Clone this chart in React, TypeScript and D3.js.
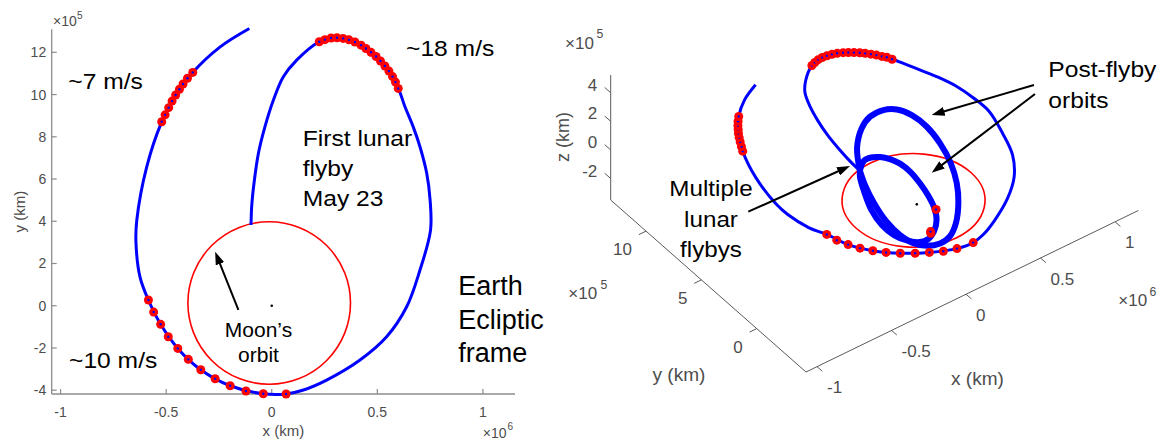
import React from "react";
import * as d3 from "d3";

const FONT = "'Liberation Sans', Arial, Helvetica, sans-serif";

// all positions in units of 1e5 km, [x, y, z]
const moonOrbit = { cx: -0.12, cy: 0.13, r: 3.85 };
const earth = [0, 0, -0.25];

// pre-flyby trajectory, start (top) to first lunar flyby
const trajectory = [
  [-1.06, 13.13, -0.3], [-2.44, 12.26, -0.05], [-3.74, 11.05, 0.25], [-4.55, 9.98, 0.21],
  [-5.21, 8.71, 0.17], [-5.92, 6.58, 0.15], [-6.39, 4.06, 0.2], [-6.43, 3.0, 0.25],
  [-6.24, 1.37, 0.35], [-5.84, 0.27, 0.42], [-5.26, -0.88, 0.2], [-4.45, -2.02, 0.14],
  [-3.36, -3.03, 0.1], [-1.97, -3.79, -0.03], [-0.4, -4.17, -0.3], [0.68, -4.18, -0.42],
  [1.5, -3.99, -0.4], [2.6, -3.52, -0.3], [4.18, -2.57, -0.2], [5.44, -1.47, -0.1],
  [6.39, -0.05, 0], [7.02, 1.69, 0], [7.52, 3.58, 0], [7.5, 5.0, 0], [7.34, 6.27, 0],
  [7.02, 7.53, -0.05], [6.7, 8.47, -0.1], [6.31, 9.42, -0.1], [5.99, 10.29, -0.15],
  [5.36, 11.35, -0.2], [4.46, 12.18, -0.2], [3.38, 12.66, -0.2], [2.81, 12.68, -0.2],
  [2.25, 12.5, -0.2], [1.18, 11.63, -0.15], [0.55, 10.84, -0.1], [0.08, 9.74, -0.1],
  [-0.32, 8.48, -0.05], [-0.63, 7.22, 0], [-0.84, 5.8, 0], [-0.95, 4.69, 0], [-0.98, 3.82, 0],
];

// maneuver points
const burns7 = [
  [-5.21, 8.71, 0.17], [-5.05, 9.04, 0.18], [-4.88, 9.38, 0.19], [-4.72, 9.69, 0.2],
  [-4.55, 9.98, 0.21], [-4.37, 10.25, 0.22], [-4.2, 10.5, 0.23], [-3.99, 10.77, 0.24],
  [-3.74, 11.05, 0.25],
];
const burns10 = [
  [-5.84, 0.27, 0.42], [-5.59, -0.3, 0.28], [-5.26, -0.88, 0.2], [-4.9, -1.47, 0.17],
  [-4.45, -2.02, 0.14], [-3.95, -2.54, 0.12], [-3.36, -3.03, 0.1], [-2.68, -3.46, 0.05],
  [-1.97, -3.79, -0.03], [-1.22, -4.04, -0.16], [-0.4, -4.17, -0.3], [0.68, -4.18, -0.42],
];
const burns18 = [
  [2.25, 12.5, -0.2], [2.52, 12.6, -0.2], [2.81, 12.68, -0.2], [3.09, 12.69, -0.2],
  [3.38, 12.66, -0.2], [3.66, 12.59, -0.2], [3.94, 12.49, -0.2], [4.23, 12.34, -0.2],
  [4.46, 12.18, -0.2], [4.7, 12.0, -0.2], [4.94, 11.8, -0.2], [5.15, 11.59, -0.2],
  [5.36, 11.35, -0.2], [5.55, 11.11, -0.2], [5.72, 10.85, -0.2], [5.86, 10.59, -0.15],
  [5.99, 10.29, -0.15],
];

// post-flyby orbits (3D panel only)
const postOuter = [
  [-0.98, 3.82, 0], [0.02, 5.42, 0], [1.18, 6.56, 0], [2.11, 7.06, 0], [3.01, 7.07, 0],
  [3.62, 6.68, 0], [3.99, 5.82, 0], [4.07, 4.57, 0], [3.83, 3.05, 0], [3.32, 1.4, 0],
  [2.6, -0.11, 0], [1.7, -1.47, 0], [0.62, -2.71, 0], [-0.29, -3.4, 0], [-1.09, -3.57, 0],
  [-1.78, -3.3, 0], [-2.23, -2.69, 0], [-2.41, -1.74, 0], [-2.33, -0.37, 0], [-1.97, 1.2, 0],
  [-1.48, 2.67, 0], [-0.98, 3.82, 0],
];
const postInner = [
  [-0.98, 3.82, 0], [-0.31, 4.34, 0], [0.15, 4.33, 0], [0.56, 4.07, 0], [0.89, 3.62, 0],
  [1.1, 2.99, 0], [1.14, 2.14, 0], [0.99, 1.03, 0], [0.75, -0.02, 0], [0.42, -1.0, 0],
  [-0.06, -1.87, 0], [-0.75, -2.57, 0], [-1.4, -2.9, 0], [-1.98, -2.78, 0], [-2.4, -2.26, 0],
  [-2.67, -1.54, 0], [-2.7, -0.5, 0], [-2.4, 0.9, 0], [-1.82, 2.31, 0], [-1.31, 3.36, 0],
  [-0.98, 3.82, 0],
];
const postBurns = [[0.41, -1.19, 0], [-0.99, -2.6, 0], [-0.92, -2.48, 0]];

const xTicks = [-10, -5, 0, 5, 10]; // labelled in units of 1e6 km
const yTicks2d = [-4, -2, 0, 2, 4, 6, 8, 10, 12];
const yTicks3d = [0, 5, 10];
const zTicks3d = [-2, 0, 2, 4];

// ---------- 2D panel scales
const x2 = d3.scaleLinear().domain([-10.42, 11.52]).range([51.7, 515]);
const y2 = d3.scaleLinear().domain([-4.18, 13.09]).range([394, 29.3]);
const line2 = d3
  .line<number[]>()
  .x((d) => x2(d[0]))
  .y((d) => y2(d[1]))
  .curve(d3.curveCatmullRom.alpha(0.5));

// ---------- 3D panel (fixed MATLAB view), each axis scaled to its box edge
const X3 = d3.scaleLinear().domain([-10.74, 11.56]).range([0, 1]);
const Y3 = d3.scaleLinear().domain([-4.45, 13.19]).range([0, 1]);
const Z3 = d3.scaleLinear().domain([-3.5, 5.24]).range([0, 1]);
const corner = [806, 372];
const VX = [332.3, -161.5];
const VY = [-195.3, -172];
const VZ = [0, -125];
function proj(p: number[]) {
  const a = X3(p[0]), b = Y3(p[1]), c = Z3(p[2]);
  return [
    corner[0] + a * VX[0] + b * VY[0] + c * VZ[0],
    corner[1] + a * VX[1] + b * VY[1] + c * VZ[1],
  ];
}
const line3 = d3
  .line<number[]>()
  .x((d) => proj(d)[0])
  .y((d) => proj(d)[1])
  .curve(d3.curveCatmullRom.alpha(0.5));

function Txt({ x, y, size, s = 1, anchor = "start", fill = "#000", rot = 0, children }: any) {
  return (
    <text
      transform={`translate(${x},${y})${rot ? ` rotate(${rot})` : ""} scale(${s},1)`}
      fontSize={size}
      textAnchor={anchor}
      dominantBaseline="central"
      fill={fill}
    >
      {children}
    </text>
  );
}

function Exp({ x, y, size, exp, ex, ey, fill }: any) {
  return (
    <g>
      <Txt x={x} y={y} size={size} fill={fill}>×10</Txt>
      <Txt x={ex} y={ey} size={size * 0.72} fill={fill}>{exp}</Txt>
    </g>
  );
}

function Arrow({ from, to }: any) {
  const dx = to[0] - from[0], dy = to[1] - from[1];
  const L = Math.hypot(dx, dy);
  const end = [to[0] - (dx / L) * 8, to[1] - (dy / L) * 8];
  return (
    <g>
      <line x1={from[0]} y1={from[1]} x2={end[0]} y2={end[1]} stroke="#000" strokeWidth={2} />
      <line x1={end[0]} y1={end[1]} x2={to[0]} y2={to[1]} stroke="none" markerEnd="url(#ah)" />
    </g>
  );
}

function Marks({ pts, at, r = 4.5 }: any) {
  return (
    <g>
      {pts.map((p: number[], i: number) => {
        const [cx, cy] = at(p);
        return (
          <g key={i}>
            <circle cx={cx} cy={cy} r={r} fill="#ff0000" />
            <circle cx={cx} cy={cy} r={1.2} fill="#0000ff" />
          </g>
        );
      })}
    </g>
  );
}

export default function App() {
  const axisC = "#8c8c8c";
  const labC = "#4d4d4d";
  const at2 = (p: number[]) => [x2(p[0]), y2(p[1])];

  // 2D axes
  const xL = x2.range()[0], yB = y2.range()[0];

  // 3D moon orbit: circle in the z=0 plane mapped by the projection
  const o = proj([0, 0, 0]);
  const ex = proj([1, 0, 0]);
  const ey = proj([0, 1, 0]);
  const mtx = `matrix(${ex[0] - o[0]},${ex[1] - o[1]},${ey[0] - o[0]},${ey[1] - o[1]},${o[0]},${o[1]})`;

  const [xmin] = X3.domain();
  const [ymin, ymax] = Y3.domain();
  const [zmin, zmax] = Z3.domain();
  const cxyz = proj([xmin, ymin, zmin]);
  const xEnd = proj([X3.domain()[1], ymin, zmin]);
  const yEnd = proj([xmin, ymax, zmin]);
  const zEnd = proj([xmin, ymax, zmax]);
  const ax3 = "#5a5a5a";

  return (
    <svg
      width={1162}
      height={441}
      style={{ position: "absolute", left: 0, top: 0, display: "block" }}
      fontFamily={FONT}
    >
      <defs>
        <marker id="ah" viewBox="0 0 13 9" refX={13} refY={4.5} markerWidth={13} markerHeight={9}
          markerUnits="userSpaceOnUse" orient="auto">
          <path d="M0,0 L13,4.5 L0,9 Z" fill="#000" />
        </marker>
      </defs>
      <rect width={1162} height={441} fill="#fff" />

      {/* ================= left: 2D ecliptic view ================= */}
      <g>
        <line x1={xL} y1={y2.range()[1]} x2={xL} y2={yB} stroke={axisC} strokeWidth={1.3} />
        <line x1={xL} y1={yB} x2={x2.range()[1]} y2={yB} stroke={axisC} strokeWidth={1.3} />
        {yTicks2d.map((t) => (
          <g key={t}>
            <line x1={xL} x2={xL + 5} y1={y2(t)} y2={y2(t)} stroke={axisC} strokeWidth={1.2} />
            <Txt x={xL - 5.5} y={y2(t)} size={14} anchor="end" fill={labC}>{t}</Txt>
          </g>
        ))}
        {xTicks.map((t) => (
          <g key={t}>
            <line x1={x2(t)} x2={x2(t)} y1={yB} y2={yB - 5} stroke={axisC} strokeWidth={1.2} />
            <Txt x={x2(t)} y={411.5} size={14} anchor="middle" fill={labC}>{String(t / 10)}</Txt>
          </g>
        ))}
        <Exp x={53} y={21} size={14} exp="5" ex={77} ey={15} fill={labC} />
        <Exp x={482.7} y={433} size={14} exp="6" ex={507.5} ey={426.5} fill={labC} />
        <Txt x={(x2.range()[0] + x2.range()[1]) / 2} y={430.5} size={15} anchor="middle" fill={labC}>x (km)</Txt>
        <Txt x={19} y={(y2.range()[0] + y2.range()[1]) / 2} size={15} anchor="middle" rot={-90} fill={labC}>y (km)</Txt>

        <circle cx={x2(moonOrbit.cx)} cy={y2(moonOrbit.cy)} r={x2(moonOrbit.r) - x2(0)}
          fill="none" stroke="#ff0000" strokeWidth={1.6} />
        <path d={line2(trajectory) || ""} fill="none" stroke="#0000ff" strokeWidth={3} />
        <Marks pts={burns7} at={at2} />
        <Marks pts={burns10} at={at2} />
        <Marks pts={burns18} at={at2} />
        <circle cx={x2(earth[0])} cy={y2(earth[1])} r={1.3} fill="#000" />

        <Arrow from={at2([-1.58, -0.2])} to={at2([-2.68, 2.56])} />
        <Txt x={68.3} y={81.7} size={22} s={1.12}>~7 m/s</Txt>
        <Txt x={406} y={48.7} size={22} s={1.12}>~18 m/s</Txt>
        <Txt x={69} y={360} size={22} s={1.12}>~10 m/s</Txt>
        <Txt x={302.7} y={138.7} size={22} s={1.12}>First lunar</Txt>
        <Txt x={302.7} y={168.5} size={22} s={1.12}>flyby</Txt>
        <Txt x={302.7} y={198.7} size={22} s={1.12}>May 23</Txt>
        <Txt x={258.5} y={330} size={20} s={1.05} anchor="middle">Moon’s</Txt>
        <Txt x={258.5} y={355} size={20} s={1.05} anchor="middle">orbit</Txt>
        <Txt x={458.3} y={286.3} size={27}>Earth</Txt>
        <Txt x={458.3} y={319.7} size={27}>Ecliptic</Txt>
        <Txt x={458.3} y={353} size={27}>frame</Txt>
      </g>

      {/* ================= right: 3D view ================= */}
      <g>
        <line x1={cxyz[0]} y1={cxyz[1]} x2={xEnd[0]} y2={xEnd[1]} stroke={ax3} strokeWidth={1} />
        <line x1={cxyz[0]} y1={cxyz[1]} x2={yEnd[0]} y2={yEnd[1]} stroke={ax3} strokeWidth={1} />
        <line x1={yEnd[0]} y1={yEnd[1]} x2={zEnd[0]} y2={zEnd[1]} stroke={ax3} strokeWidth={1} />
        {xTicks.map((t) => {
          const p = proj([t, ymin, zmin]);
          return (
            <g key={t}>
              <line x1={p[0]} y1={p[1]} x2={p[0] + 5.3} y2={p[1] + 4.6} stroke={ax3} />
              <Txt x={p[0] + 10} y={p[1] + 21} size={17} fill={labC}>{String(t / 10)}</Txt>
            </g>
          );
        })}
        {yTicks3d.map((t) => {
          const p = proj([xmin, t, zmin]);
          return (
            <g key={t}>
              <line x1={p[0]} y1={p[1]} x2={p[0] - 7.2} y2={p[1] + 3.5} stroke={ax3} />
              <Txt x={p[0] - 14} y={p[1] + 18.5} size={17} anchor="end" fill={labC}>{t}</Txt>
            </g>
          );
        })}
        {zTicks3d.map((t) => {
          const p = proj([xmin, ymax, t]);
          return (
            <g key={t}>
              <line x1={p[0]} y1={p[1]} x2={p[0] - 6} y2={p[1] - 5.3} stroke={ax3} />
              <Txt x={p[0] - 13.4} y={p[1] - 7.5} size={17} anchor="end" fill={labC}>{t}</Txt>
            </g>
          );
        })}
        <Exp x={565} y={43.3} size={17} exp="5" ex={596.5} ey={34.3} fill={labC} />
        <Exp x={568.3} y={293.3} size={17} exp="5" ex={600.5} ey={285} fill={labC} />
        <Exp x={1118.3} y={300} size={17} exp="6" ex={1149.5} ey={291.7} fill={labC} />
        <Txt x={679} y={375} size={18} s={1.06} anchor="middle" fill={labC}>y (km)</Txt>
        <Txt x={977.5} y={378.3} size={18} s={1.06} anchor="middle" fill={labC}>x (km)</Txt>
        <Txt x={563} y={137} size={18} anchor="middle" rot={-90} fill={labC}>z (km)</Txt>

        <circle cx={moonOrbit.cx} cy={moonOrbit.cy} r={moonOrbit.r} transform={mtx}
          fill="none" stroke="#ff0000" strokeWidth={1.6} vectorEffect="non-scaling-stroke" />
        <path d={line3(trajectory) || ""} fill="none" stroke="#0000ff" strokeWidth={3} />
        <path d={line3(postOuter) || ""} fill="none" stroke="#0000ff" strokeWidth={6} />
        <path d={line3(postInner) || ""} fill="none" stroke="#0000ff" strokeWidth={6} />
        <Marks pts={burns7} at={proj} />
        <Marks pts={burns10} at={proj} />
        <Marks pts={burns18} at={proj} />
        <Marks pts={postBurns} at={proj} />
        <circle cx={proj(earth)[0]} cy={proj(earth)[1]} r={1.3} fill="#000" />

        <Arrow from={[748.3, 211.7]} to={[850, 166]} />
        <Arrow from={[1034, 85]} to={[931.7, 115]} />
        <Arrow from={[1035, 94]} to={[931.7, 172.7]} />
        <Txt x={711} y={188.3} size={22} s={1.1} anchor="middle">Multiple</Txt>
        <Txt x={711} y={219.3} size={22} s={1.1} anchor="middle">lunar</Txt>
        <Txt x={711} y={249.3} size={22} s={1.1} anchor="middle">flybys</Txt>
        <Txt x={1048.3} y={69.7} size={22} s={1.12}>Post-flyby</Txt>
        <Txt x={1048.3} y={100} size={22} s={1.12}>orbits</Txt>
      </g>
    </svg>
  );
}
